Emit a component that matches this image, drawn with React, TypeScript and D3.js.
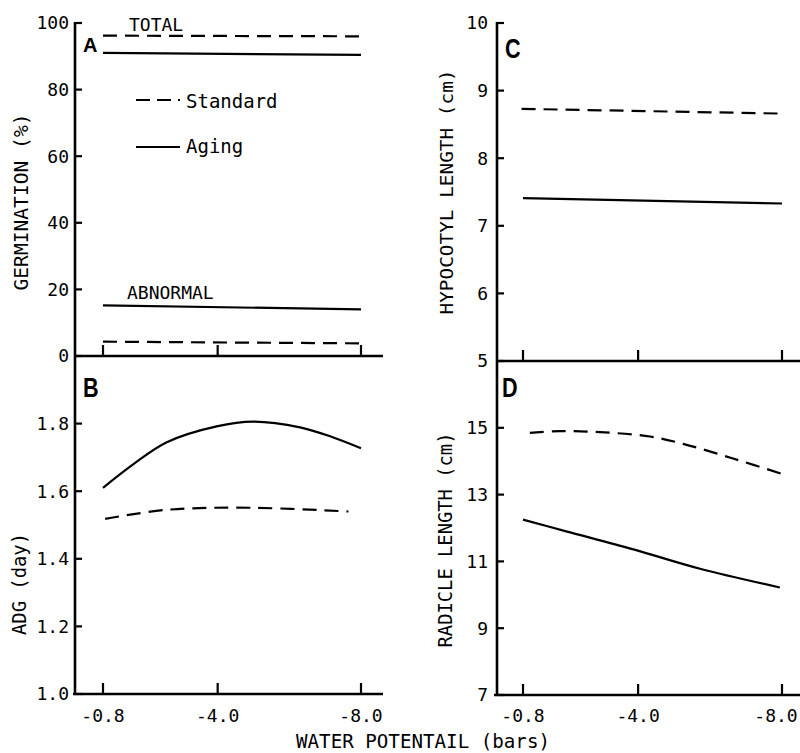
import React from "react";
import * as d3 from "d3";

// ---------- data ----------
const xTicks = [-0.8, -4.0, -8.0];
const xTickLabels = ["-0.8", "-4.0", "-8.0"];

// Panel A (germination %)
const aX = [-0.8, -8.0];
const aTotalStandard = [96.2, 96.0];
const aTotalAging = [91.0, 90.4];
const aAbnormalAging = [15.2, 14.0];
const aAbnormalStandard = [4.3, 3.8];
const aTicks = [0, 20, 40, 60, 80, 100];

// Panel B (ADG, day)
const bAgingX = [-0.8, -1.65, -2.58, -3.97, -4.99, -6.3, -7.23, -8.0];
const bAgingY = [1.61, 1.68, 1.745, 1.792, 1.806, 1.789, 1.759, 1.727];
const bStandardX = [-0.86, -2.58, -4.9, -7.65];
const bStandardY = [1.518, 1.545, 1.551, 1.54];
const bTicks = [1.0, 1.2, 1.4, 1.6, 1.8];

// Panel C (hypocotyl length, cm)
const cX = [-0.76, -8.0];
const cStandard = [8.73, 8.66];
const cAgingX = [-0.8, -8.0];
const cAging = [7.41, 7.33];
const cTicks = [5, 6, 7, 8, 9, 10];

// Panel D (radicle length, cm)
const dStandardX = [-0.99, -1.83, -2.94, -4.33, -5.25, -6.64, -8.03];
const dStandardY = [14.85, 14.9, 14.87, 14.74, 14.52, 14.08, 13.61];
const dAgingX = [-0.8, -2.0, -3.87, -5.72, -7.94];
const dAgingY = [12.25, 11.9, 11.36, 10.78, 10.22];
const dTicks = [7, 9, 11, 13, 15];

// ---------- scales ----------
const xL = d3.scaleLinear().domain([-0.8, -8.0]).range([103, 361]);
const xR = d3.scaleLinear().domain([-0.8, -8.0]).range([523, 782]);
const yA = d3.scaleLinear().domain([0, 100]).range([356, 23]);
const yB = d3.scaleLinear().domain([1.0, 2.0]).range([694, 356]);
const yC = d3.scaleLinear().domain([5, 10]).range([361, 23]);
const yD = d3.scaleLinear().domain([7, 17]).range([695, 361]);

const MONO = "'DejaVu Sans Mono', 'Liberation Mono', monospace";
const SANS = "'Liberation Sans', Arial, sans-serif";
const DASH = "14 8";
const SMOOTH = d3.curveCatmullRom.alpha(0.5);

function path(xs: number[], ys: number[], x: any, y: any, curve: any = SMOOTH) {
  const pts = xs.map((v, i) => [x(v), y(ys[i])] as [number, number]);
  return d3.line().curve(curve)(pts) || "";
}

function YTicks({ ticks, y, axisX, labelX, fmt }: any) {
  return (
    <g>
      {ticks.map((t: number) => (
        <g key={t}>
          <line x1={axisX} x2={axisX + 7} y1={y(t)} y2={y(t)} stroke="#000" strokeWidth={2.2} />
          <text x={labelX} y={y(t)} dy="0.36em" textAnchor="end" fontFamily={MONO} fontSize={18}>
            {fmt(t)}
          </text>
        </g>
      ))}
    </g>
  );
}

function XTicks({ x, axisY, labels, maxRight }: any) {
  return (
    <g>
      {xTicks.map((t, i) => {
        const half = 22;
        const cx = Math.min(x(t), maxRight - half);
        return (
          <g key={t}>
            <line x1={x(t)} x2={x(t)} y1={axisY} y2={axisY - 11} stroke="#000" strokeWidth={2.2} />
            {labels && (
              <text x={cx} y={722} textAnchor="middle" fontFamily={MONO} fontSize={18}>
                {xTickLabels[i]}
              </text>
            )}
          </g>
        );
      })}
    </g>
  );
}

export default function App() {
  const lineProps = { fill: "none", stroke: "#000", strokeWidth: 2.2 };
  return (
    <svg
      width={800}
      height={753}
      style={{ position: "absolute", left: 0, top: 0, background: "#fff" }}
    >
      <rect x={0} y={0} width={800} height={753} fill="#fff" />

      {/* ---------- left column axes ---------- */}
      <line x1={75} x2={75} y1={22} y2={695} stroke="#000" strokeWidth={2.6} />
      <line x1={75} x2={383} y1={yA(0)} y2={yA(0)} stroke="#000" strokeWidth={2.6} />
      <line x1={73} x2={383} y1={yB(1.0)} y2={yB(1.0)} stroke="#000" strokeWidth={2.6} />
      <YTicks ticks={aTicks} y={yA} axisX={75} labelX={69} fmt={(t: number) => String(t)} />
      <YTicks ticks={bTicks} y={yB} axisX={75} labelX={69} fmt={(t: number) => t.toFixed(1)} />
      <XTicks x={xL} axisY={yA(0)} labels={false} maxRight={800} />
      <XTicks x={xL} axisY={yB(1.0)} labels={true} maxRight={800} />

      {/* ---------- right column axes ---------- */}
      <line x1={497} x2={497} y1={22} y2={696} stroke="#000" strokeWidth={2.6} />
      <line x1={497} x2={800} y1={yC(5)} y2={yC(5)} stroke="#000" strokeWidth={2.6} />
      <line x1={494} x2={800} y1={yD(7)} y2={yD(7)} stroke="#000" strokeWidth={2.6} />
      <YTicks ticks={cTicks} y={yC} axisX={497} labelX={488} fmt={(t: number) => String(t)} />
      <YTicks ticks={dTicks} y={yD} axisX={497} labelX={488} fmt={(t: number) => String(t)} />
      <XTicks x={xR} axisY={yC(5)} labels={false} maxRight={798} />
      <XTicks x={xR} axisY={yD(7)} labels={true} maxRight={798} />

      {/* ---------- panel A ---------- */}
      <path d={path(aX, aTotalStandard, xL, yA)} {...lineProps} strokeDasharray={DASH} />
      <path d={path(aX, aTotalAging, xL, yA)} {...lineProps} />
      <path d={path(aX, aAbnormalAging, xL, yA)} {...lineProps} />
      <path d={path(aX, aAbnormalStandard, xL, yA)} {...lineProps} strokeDasharray={DASH} />
      <text x={129} y={31} fontFamily={MONO} fontSize={18}>TOTAL</text>
      <text x={127} y={299} fontFamily={MONO} fontSize={18}>ABNORMAL</text>
      <line x1={136} x2={180} y1={100} y2={100} {...lineProps} strokeDasharray="14 7" />
      <text x={186} y={108} fontFamily={MONO} fontSize={19}>Standard</text>
      <line x1={136} x2={180} y1={147} y2={147} {...lineProps} />
      <text x={186} y={153} fontFamily={MONO} fontSize={19}>Aging</text>

      {/* ---------- panel B ---------- */}
      <path d={path(bAgingX, bAgingY, xL, yB)} {...lineProps} />
      <path d={path(bStandardX, bStandardY, xL, yB)} {...lineProps} strokeDasharray={DASH} />

      {/* ---------- panel C ---------- */}
      <path d={path(cX, cStandard, xR, yC)} {...lineProps} strokeDasharray={DASH} />
      <path d={path(cAgingX, cAging, xR, yC)} {...lineProps} />

      {/* ---------- panel D ---------- */}
      <path d={path(dStandardX, dStandardY, xR, yD)} {...lineProps} strokeDasharray={DASH} />
      <path d={path(dAgingX, dAgingY, xR, yD)} {...lineProps} />

      {/* ---------- panel letters ---------- */}
      <text x={83} y={52} fontFamily={SANS} fontWeight="bold" fontSize={20}>A</text>
      <text x={0} y={0} fontFamily={SANS} fontWeight="bold" fontSize={27} transform="translate(83,397) scale(0.8,1)">B</text>
      <text x={0} y={0} fontFamily={SANS} fontWeight="bold" fontSize={27} transform="translate(505,58) scale(0.8,1)">C</text>
      <text x={0} y={0} fontFamily={SANS} fontWeight="bold" fontSize={27} transform="translate(502,397) scale(0.8,1)">D</text>

      {/* ---------- axis titles ---------- */}
      <text
        transform="translate(28,202) rotate(-90)"
        textAnchor="middle"
        fontFamily={MONO}
        fontSize={19}
        textLength={177}
        lengthAdjust="spacingAndGlyphs"
      >
        GERMINATION (%)
      </text>
      <text
        transform="translate(26,584) rotate(-90)"
        textAnchor="middle"
        fontFamily={MONO}
        fontSize={19}
        textLength={102}
        lengthAdjust="spacingAndGlyphs"
      >
        ADG (day)
      </text>
      <text
        transform="translate(453,192) rotate(-90)"
        textAnchor="middle"
        fontFamily={MONO}
        fontSize={18}
        textLength={245}
        lengthAdjust="spacingAndGlyphs"
      >
        HYPOCOTYL LENGTH (cm)
      </text>
      <text
        transform="translate(452,540) rotate(-90)"
        textAnchor="middle"
        fontFamily={MONO}
        fontSize={19}
        textLength={215}
        lengthAdjust="spacingAndGlyphs"
      >
        RADICLE LENGTH (cm)
      </text>
      <text
        x={296}
        y={748}
        fontFamily={MONO}
        fontSize={19}
        textLength={254}
        lengthAdjust="spacingAndGlyphs"
      >
        WATER POTENTAIL (bars)
      </text>
    </svg>
  );
}
